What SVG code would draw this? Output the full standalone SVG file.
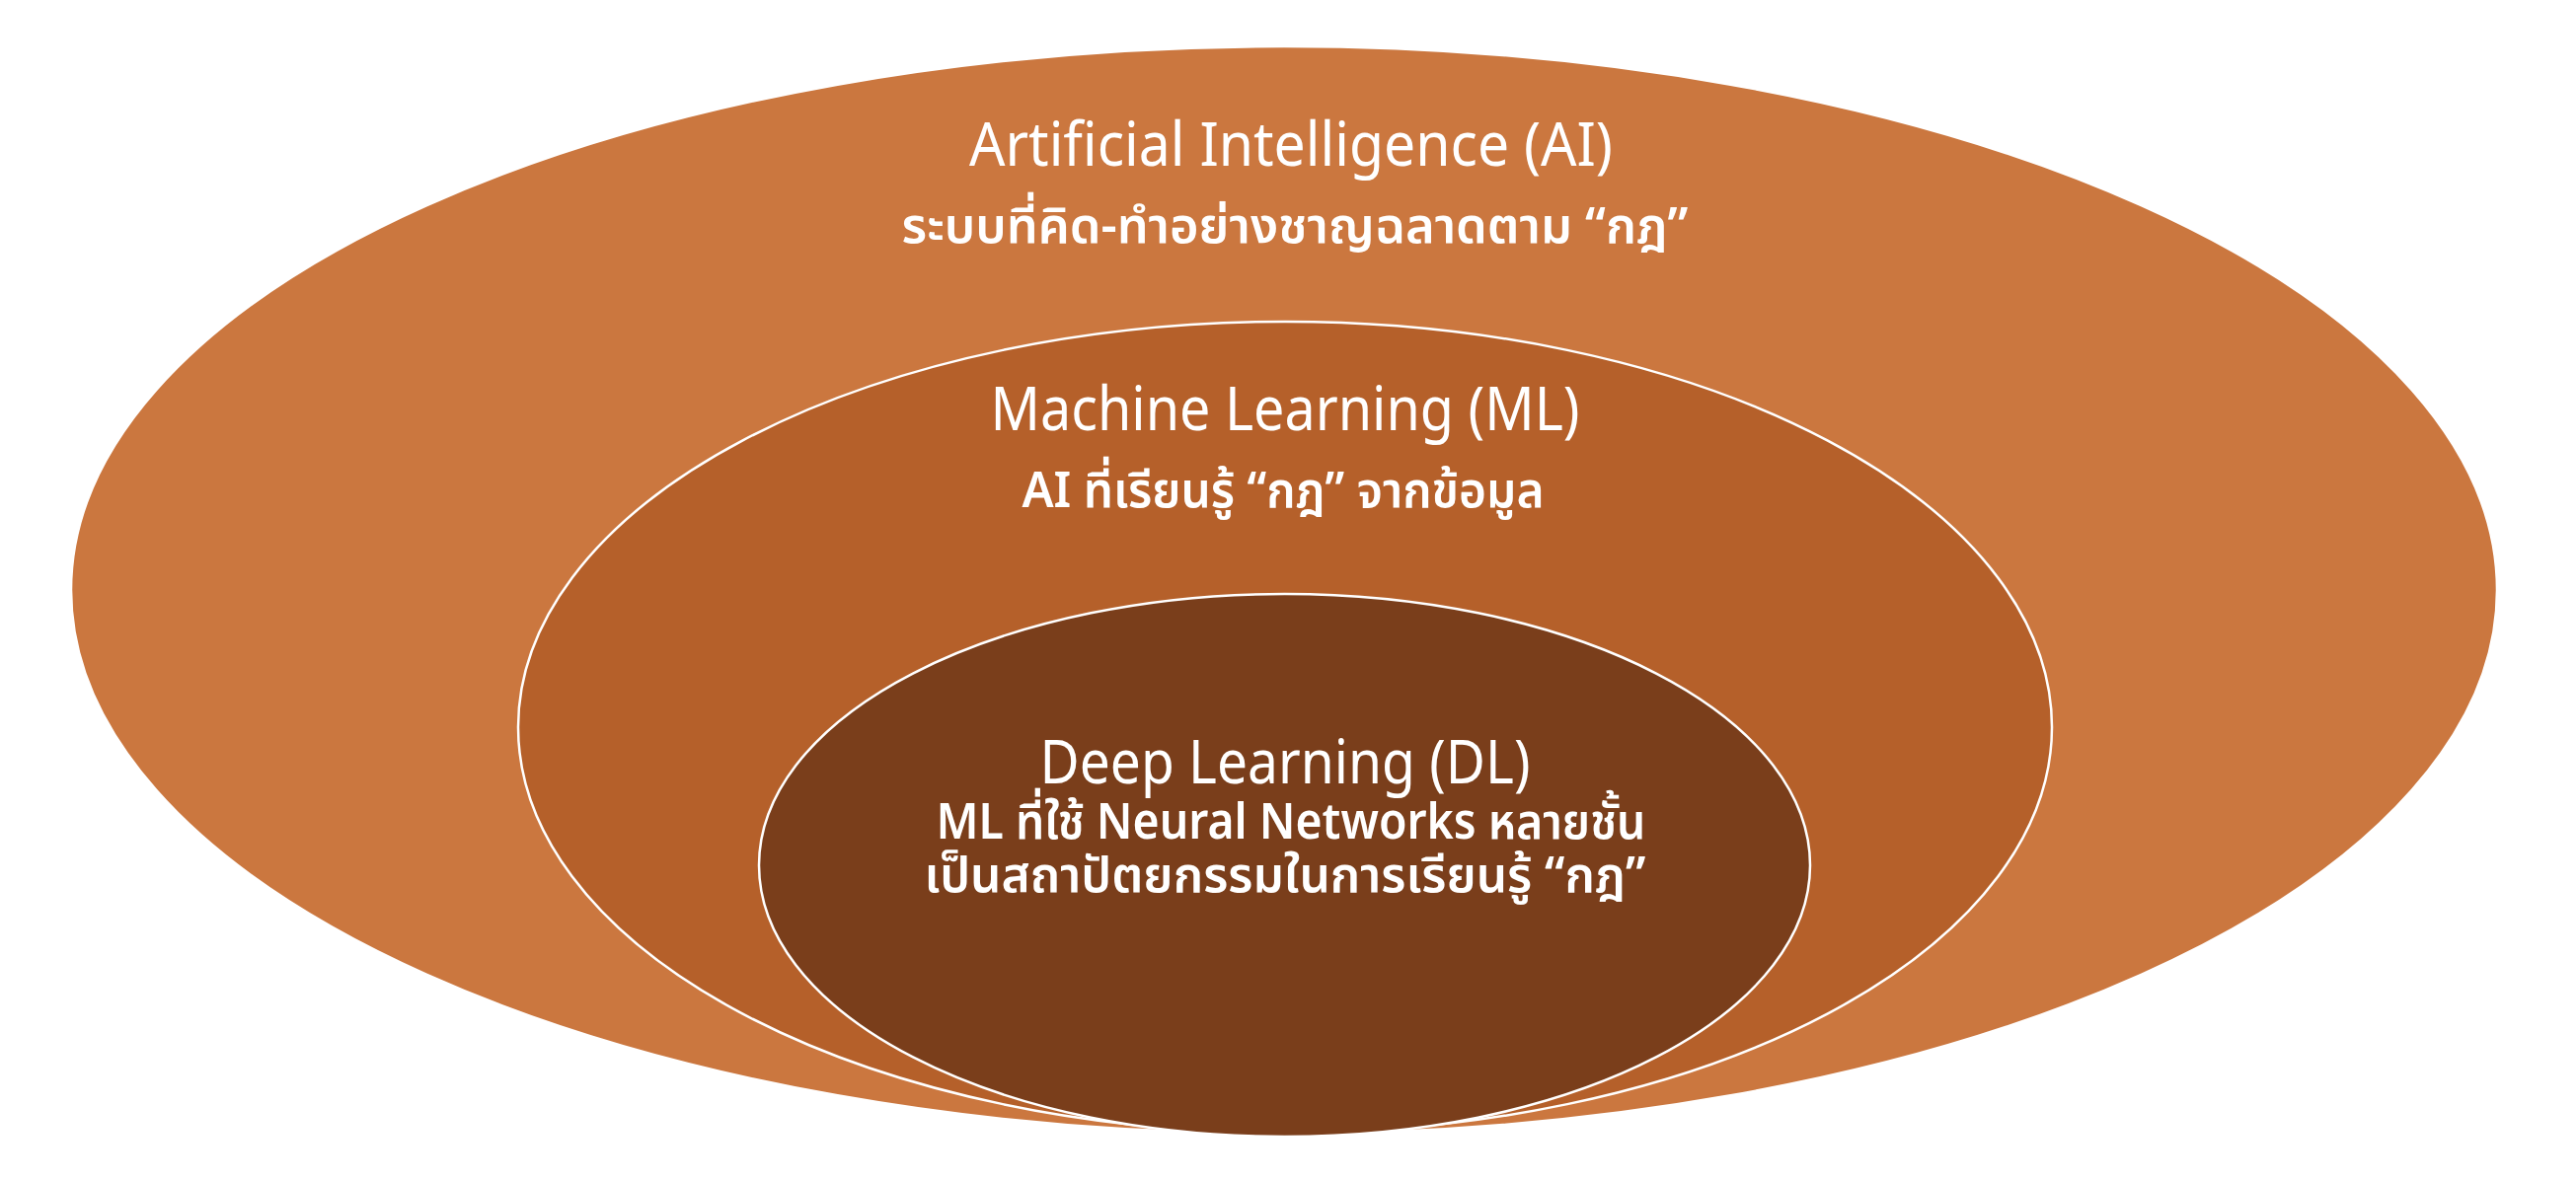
<svg xmlns="http://www.w3.org/2000/svg" width="2610" height="1196" viewBox="0 0 2610 1196">
<style>
.e{stroke:#ffffff;stroke-width:2.5}
.t{font-family:"Noto Sans","Noto Sans Thai","DejaVu Sans",sans-serif;fill:#ffffff;text-anchor:middle}
.h{font-size:62px}
.s{font-size:50px;font-weight:600}
</style>
<rect width="2610" height="1196" fill="#ffffff"/>
<g id="connectors"></g>
<g id="ai">
<ellipse class="e" cx="1301" cy="598" rx="1229" ry="551" fill="#CB773F"/>
<text class="t h" x="1308" y="168" textLength="652" lengthAdjust="spacingAndGlyphs">Artificial Intelligence (AI)</text>
<text class="t s" x="1312" y="246" textLength="797" lengthAdjust="spacingAndGlyphs">ระบบที่คิด-ทำอย่างชาญฉลาดตาม “กฎ”</text>
</g>
<g id="ml">
<ellipse class="e" cx="1302" cy="737" rx="777" ry="411" fill="#B5602A"/>
<text class="t h" x="1302" y="436" textLength="597" lengthAdjust="spacingAndGlyphs">Machine Learning (ML)</text>
<text class="t s" x="1300" y="514" textLength="529" lengthAdjust="spacingAndGlyphs">AI ที่เรียนรู้ “กฎ” จากข้อมูล</text>
</g>
<g id="dl">
<ellipse class="e" cx="1301.5" cy="877" rx="532.5" ry="275" fill="#7A3E1B"/>
<text class="t h" x="1302" y="794" textLength="497" lengthAdjust="spacingAndGlyphs">Deep Learning (DL)</text>
<text class="t s" x="1308" y="850" textLength="719" lengthAdjust="spacingAndGlyphs">ML ที่ใช้ Neural Networks หลายชั้น</text>
<text class="t s" x="1302" y="904" textLength="731" lengthAdjust="spacingAndGlyphs">เป็นสถาปัตยกรรมในการเรียนรู้ “กฎ”</text>
</g>
</svg>
